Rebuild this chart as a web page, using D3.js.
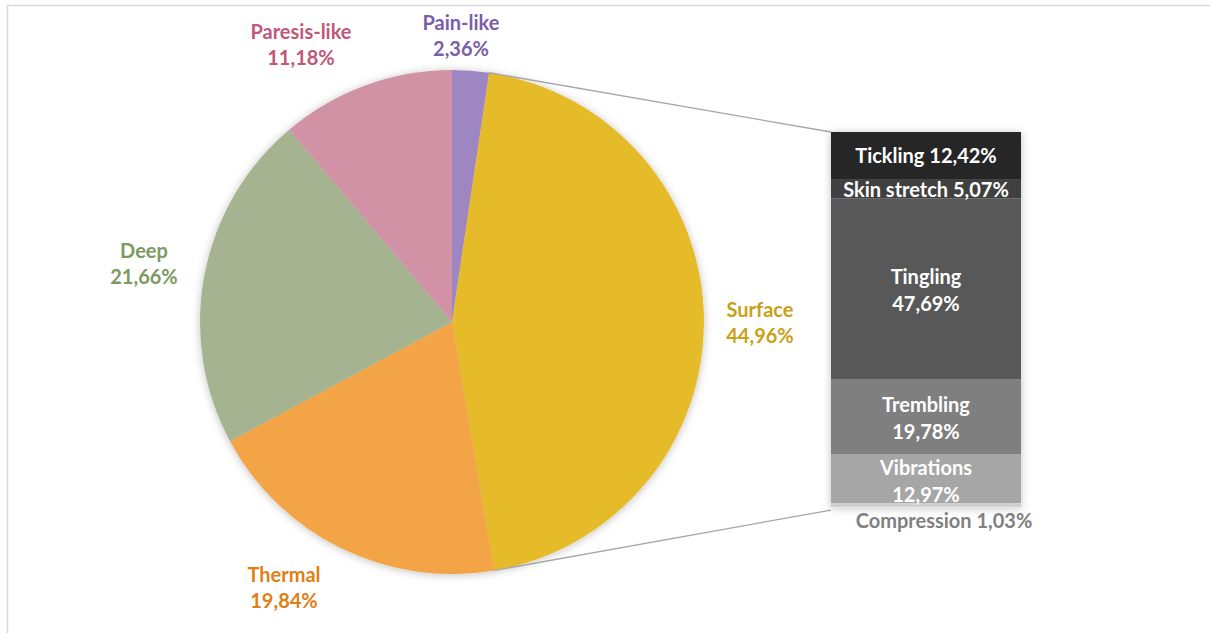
<!DOCTYPE html>
<html><head><meta charset="utf-8">
<script src="https://cdn.jsdelivr.net/npm/d3@7"></script>
<style>
html,body{margin:0;padding:0;background:#fff;}
text{font-family:Lato,"Open Sans",sans-serif;font-weight:700;}
</style></head>
<body>
<svg id="c" width="1210" height="633"></svg>
<script>
const pieLabels = ["Pain-like","Surface","Thermal","Deep","Paresis-like"];
const pieValues = [2.36,44.96,19.84,21.66,11.18];
const pieColors = ["#9e86c3","#e5bb2a","#f2a447","#a6b391","#d192a6"];
const pieTextColors = ["#7b5ea8","#c9a115","#e07f16","#7e9962","#c0587b"];
const pieLabelPos = [[461,23],[760,310],[284,575],[144,251],[301,32]];

const barLabels = ["Tickling","Skin stretch","Tingling","Trembling","Vibrations","Compression"];
const barValues = [12.42,5.07,47.69,19.78,12.97,1.03];
const barColors = ["#262626","#3f3f3f","#595959","#7f7f7f","#a6a6a6","#d0d0d0"];
const fmt = v => v.toFixed(2).replace(".", ",") + "%";

const svg = d3.select("#c");
const defs = svg.append("defs");
const f = defs.append("filter").attr("id","sh").attr("x","-20%").attr("y","-20%").attr("width","140%").attr("height","140%");
f.append("feDropShadow").attr("dx",0).attr("dy",1).attr("stdDeviation",4).attr("flood-color","#000").attr("flood-opacity",0.25);

// frame
svg.append("rect").attr("x",7.5).attr("y",5.5).attr("width",1220).attr("height",640)
  .attr("fill","none").attr("stroke","#d9d9d9").attr("stroke-width",1.5);

const cx = 452, cy = 322, R = 252;
const pie = d3.pie().sort(null).value(d => d)(pieValues);
const arc = d3.arc().innerRadius(0).outerRadius(R);
const g = svg.append("g").attr("transform",`translate(${cx},${cy})`);
g.append("g").attr("filter","url(#sh)").selectAll("path").data(pie).join("path")
  .attr("d",arc).attr("fill",(d,i)=>pieColors[i]);

// bar
const barX = 831, barW = 190, barTop = 132;
const total = d3.sum(barValues);
const y = d3.scaleLinear().domain([0,total]).range([barTop, barTop + 3.79*total]);
let cum = 0;
const segs = barValues.map((v,i)=>{const s={i,v,y0:cum,y1:cum+v};cum+=v;return s;});

// connectors
const s = pie[1];
const p0 = [cx + R*Math.sin(s.startAngle), cy - R*Math.cos(s.startAngle)];
const p1 = [cx + R*Math.sin(s.endAngle), cy - R*Math.cos(s.endAngle)];
svg.append("line").attr("x1",p0[0]).attr("y1",p0[1]).attr("x2",barX).attr("y2",y(0))
  .attr("stroke","#a6a6a6").attr("stroke-width",1.3);
svg.append("line").attr("x1",p1[0]).attr("y1",p1[1]).attr("x2",barX).attr("y2",y(total)+3)
  .attr("stroke","#a6a6a6").attr("stroke-width",1.3);

svg.append("g").attr("filter","url(#sh)").selectAll("rect").data(segs).join("rect")
  .attr("x",barX).attr("width",barW).attr("y",d=>y(d.y0)).attr("height",d=>y(d.y1)-y(d.y0))
  .attr("fill",d=>barColors[d.i]);

// pie labels
const LH = 26;
pie.forEach((d,i)=>{
  const t = svg.append("text").attr("text-anchor","middle").attr("fill",pieTextColors[i])
    .attr("font-size",20);
  t.append("tspan").attr("x",pieLabelPos[i][0]).attr("y",pieLabelPos[i][1]).attr("dy","0.35em").text(pieLabels[i]);
  t.append("tspan").attr("x",pieLabelPos[i][0]).attr("y",pieLabelPos[i][1]+LH).attr("dy","0.35em").text(fmt(pieValues[i]));
});

// bar labels
const barLabelPos = [[926,156,1],[926,189.5,1],[926,277,2],[926,405,2],[926,468,2],[944,520.5,1]];
segs.forEach(d=>{
  const [lx,ly,lines] = barLabelPos[d.i];
  const col = d.i===5 ? "#808080" : "#ffffff";
  const t = svg.append("text").attr("text-anchor","middle").attr("fill",col).attr("font-size",20);
  if(lines===1){
    t.append("tspan").attr("x",lx).attr("y",ly).attr("dy","0.35em").text(barLabels[d.i]+" "+fmt(d.v));
  } else {
    t.append("tspan").attr("x",lx).attr("y",ly).attr("dy","0.35em").text(barLabels[d.i]);
    t.append("tspan").attr("x",lx).attr("y",ly+LH+0.5).attr("dy","0.35em").text(fmt(d.v));
  }
});
</script>
</body></html>
